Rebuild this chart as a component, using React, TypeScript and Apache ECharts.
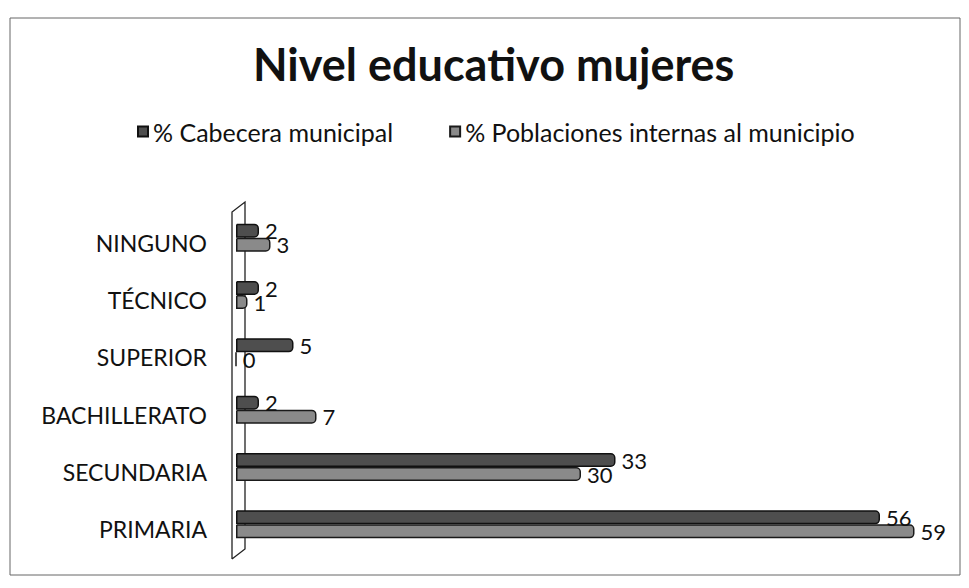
import React, { useEffect, useRef } from "react";
import * as echarts from "echarts";

const categories = ["NINGUNO", "TÉCNICO", "SUPERIOR", "BACHILLERATO", "SECUNDARIA", "PRIMARIA"];
const cabecera = [2, 2, 5, 2, 33, 56];
const poblaciones = [3, 1, 0, 7, 30, 59];
const seriesNames = ["% Cabecera municipal", "% Poblaciones internas al municipio"];
const titleText = "Nivel educativo mujeres";

const FONT = "Lato, 'Open Sans', 'DejaVu Sans', sans-serif";

export default function App() {
  const ref = useRef<HTMLDivElement>(null);
  useEffect(() => {
    if (!ref.current) return;
    const chart = echarts.init(ref.current, null, { renderer: "svg" });
    const labelStyle = {
      show: true,
      position: "right",
      distance: 6,
      color: "#111",
      fontSize: 22,
      fontFamily: FONT,
    };
    chart.setOption({
      animation: false,
      backgroundColor: "#ffffff",
      title: {
        text: titleText,
        left: 248,
        top: 36,
        textStyle: { fontSize: 45, fontWeight: "bold", color: "#111", fontFamily: FONT },
      },
      legend: {
        data: seriesNames,
        left: 132,
        top: 114,
        icon: "rect",
        itemWidth: 10,
        itemHeight: 10,
        itemGap: 56,
        textStyle: { fontSize: 25, color: "#111", fontFamily: FONT },
      },
      grid: { left: 236, right: 43, top: 209, bottom: 35, containLabel: false },
      xAxis: {
        type: "value",
        min: 0,
        max: 60,
        show: false,
      },
      yAxis: {
        type: "category",
        inverse: true,
        data: categories,
        axisLine: { show: false },
        axisTick: { show: false },
        splitLine: { show: false },
        axisLabel: {
          margin: 29,
          color: "#111",
          fontSize: 23,
          fontFamily: FONT,
          formatter: (v: string) => "{c|" + v + "}",
          rich: {
            c: {
              fontSize: 23,
              fontFamily: FONT,
              color: "#111",
              padding: [10, 0, 0, 0],
            },
          },
        },
      },
      graphic: [
        {
          type: "rect",
          shape: { x: 10, y: 18, width: 950, height: 557 },
          style: { fill: "none", stroke: "#666", lineWidth: 1 },
          silent: true,
          z: -10,
        },
        {
          type: "polyline",
          shape: {
            points: [
              [232, 559],
              [232, 212],
              [245, 202],
              [245, 549],
              [232, 559],
            ],
          },
          style: { fill: "none", stroke: "#222", lineWidth: 1.3 },
          silent: true,
          z: -5,
        },
      ],
      series: [
        {
          name: seriesNames[0],
          type: "bar",
          data: cabecera,
          barWidth: 14,
          barGap: "0%",
          itemStyle: {
            color: "#4e4e4e",
            borderColor: "#111",
            borderWidth: 1.5,
            borderRadius: [0, 4, 4, 0],
          },
          label: labelStyle,
        },
        {
          name: seriesNames[1],
          type: "bar",
          data: poblaciones,
          barWidth: 14,
          barGap: "0%",
          itemStyle: {
            color: "#8a8a8a",
            borderColor: "#1a1a1a",
            borderWidth: 1.5,
            borderRadius: [0, 4, 4, 0],
          },
          label: labelStyle,
        },
      ],
    });
    return () => chart.dispose();
  }, []);
  return (
    <div
      ref={ref}
      style={{ position: "fixed", left: 0, top: 0, width: 969, height: 588 }}
    />
  );
}
